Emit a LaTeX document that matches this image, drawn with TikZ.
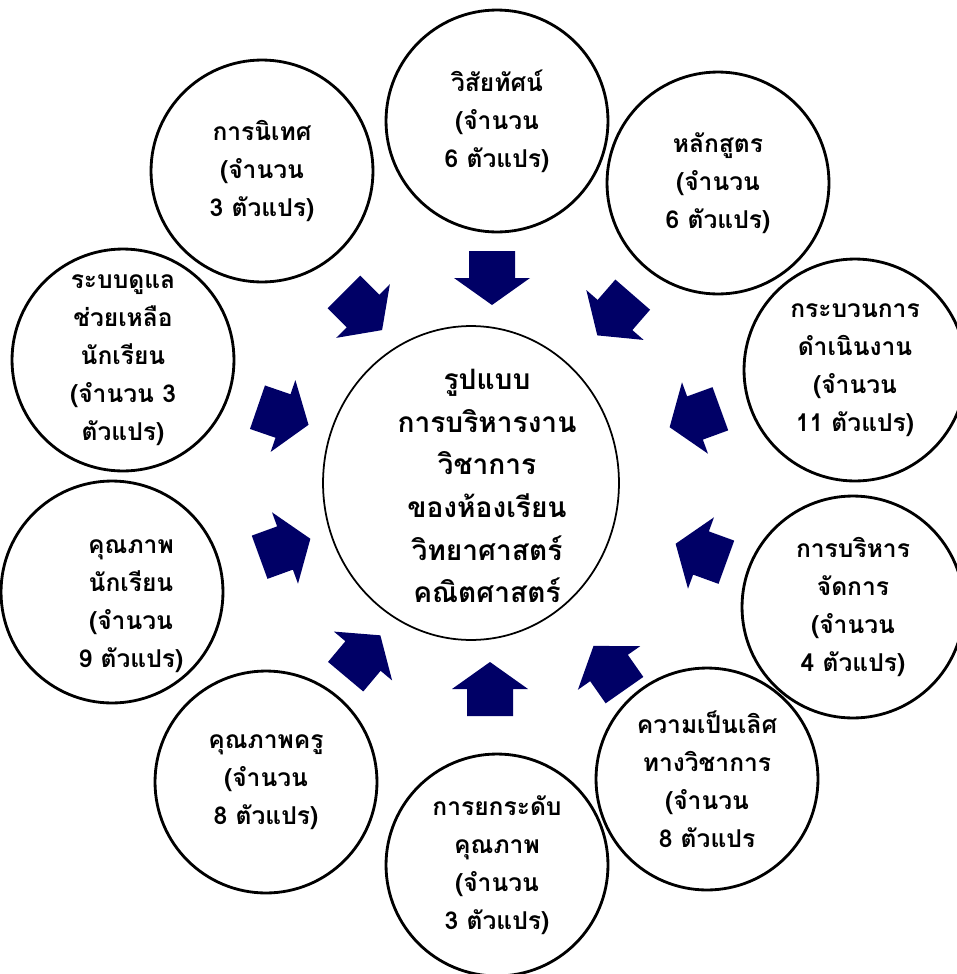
\documentclass[tikz,border=0pt]{standalone}
\usepackage{fontspec}
\newfontfamily\thaifont[Script=Thai]{Loma}
\definecolor{arrowblue}{RGB}{0,0,102}
\usetikzlibrary{shapes.geometric}
\tikzset{
  bubble/.style={circle, draw, line width=1.6pt, minimum size=4.44cm, inner sep=0pt,
    align=center, font=\thaifont\bfseries\fontsize{14pt}{21.6pt}\selectfont},
  bubbletext/.style={align=center, inner sep=0pt,
    font=\thaifont\bfseries\fontsize{14pt}{21.6pt}\selectfont},
  hubtext/.style={align=center, inner sep=0pt,
    font=\thaifont\bfseries\fontsize{16pt}{24.3pt}\selectfont},
  pointer/.pic={
    \fill[arrowblue] (-27,-23) -- (0,-23) -- (0,-38) -- (27,0) -- (0,38) -- (0,23) -- (-27,23) -- cycle;
  }
}
\begin{document}
\begin{tikzpicture}[x=0.02cm, y=-0.02cm]
  \useasboundingbox (0,0) rectangle (957,974);

  % centre
  \node[ellipse, draw, line width=1pt, minimum width=5.92cm, minimum height=6.28cm] (core) at (471,483) {};
  \node[hubtext] (coretext) at (487,486) {รูปแบบ\\การบริหารงาน\\วิชาการ\\ของห้องเรียน\\วิทยาศาสตร์\\คณิตศาสตร์};

  % outer ring
  \node[bubble] (vision) at (497,121) {วิสัยทัศน์\\(จำนวน\\6 ตัวแปร)};
  \node[bubble] (course) at (718,183) {หลักสูตร\\(จำนวน\\6 ตัวแปร)};
  \node[bubble] (process) at (855,370) {กระบวนการ\\ดำเนินงาน\\(จำนวน\\11 ตัวแปร)};
  \node[bubble] (admin) at (853,607) {การบริหาร\\จัดการ\\(จำนวน\\4 ตัวแปร)};
  \node[bubble] (excel) at (707,779) {ความเป็นเลิศ\\ทางวิชาการ\\(จำนวน\\8 ตัวแปร};
  \node[bubble] (raise) at (497,865) {การยกระดับ\\คุณภาพ\\(จำนวน\\3 ตัวแปร)};
  \node[bubble] (teacher) at (266,782) {คุณภาพครู\\(จำนวน\\8 ตัวแปร)};
  \node[bubble] (student) at (112,592) {};
  \node[bubbletext] (studenttext) at (131,606) {คุณภาพ\\นักเรียน\\(จำนวน\\9 ตัวแปร)};
  \node[bubble] (care) at (123,360) {ระบบดูแล\\ช่วยเหลือ\\นักเรียน\\(จำนวน 3\\ตัวแปร)};
  \node[bubble] (supervise) at (262,171) {การนิเทศ\\(จำนวน\\3 ตัวแปร)};

  % arrows into the centre
  \pic[rotate=-90] at (492,278) {pointer};
  \pic[rotate=-131] at (615,315) {pointer};
  \pic[rotate=-160] at (695,418) {pointer};
  \pic[rotate=-200] at (701,553) {pointer};
  \pic[rotate=-235] at (609,668) {pointer};
  \pic[rotate=-270] at (490,689) {pointer};
  \pic[rotate=-310] at (363,656) {pointer};
  \pic[rotate=-340] at (285,548) {pointer};
  \pic[rotate=-19] at (283,416) {pointer};
  \pic[rotate=-45] at (363,311) {pointer};
\end{tikzpicture}
\end{document}
